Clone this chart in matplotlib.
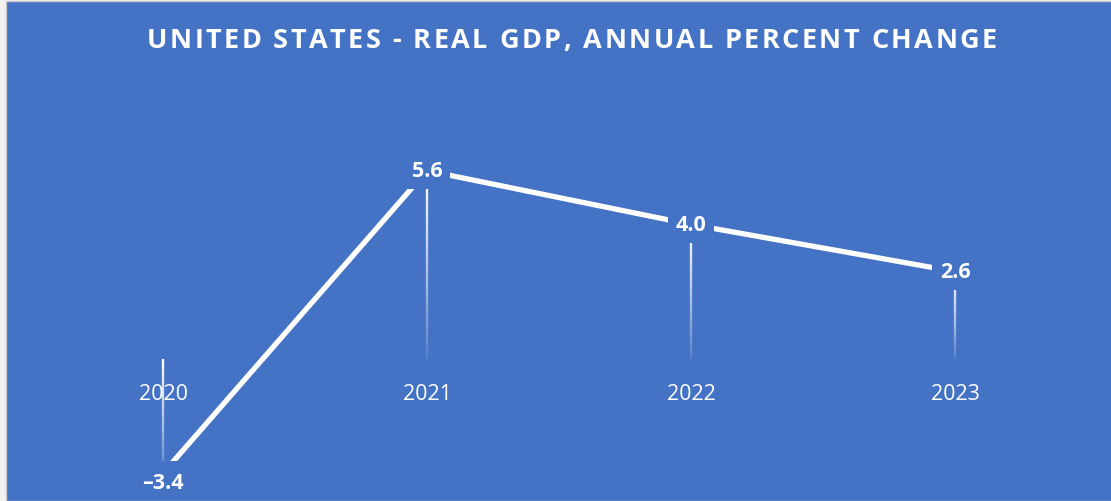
import matplotlib
matplotlib.use("Agg")
import matplotlib.pyplot as plt
import numpy as np
from matplotlib.collections import LineCollection
from matplotlib.patches import Rectangle

years = ["2020", "2021", "2022", "2023"]
gdp_change = [-3.4, 5.6, 4.0, 2.6]
title = "UNITED STATES - REAL GDP, ANNUAL PERCENT CHANGE"

BLUE = "#4472C4"
W, H = 1111, 502

plt.rcParams["font.family"] = ["Open Sans", "DejaVu Sans"]

fig = plt.figure(figsize=(W / 100, H / 100), dpi=100)
fig.patch.set_facecolor("#f2f2f2")

# blue chart area with thin grey frame on top/left
fig.patches.append(Rectangle((6 / W, 0), 1, 1 - 2 / H, transform=fig.transFigure,
                             facecolor=BLUE, edgecolor="#c8c8c8", linewidth=1.0, zorder=-5))

def px_axes(left, top, right, bottom):
    return [left / W, 1 - bottom / H, (right - left) / W, (bottom - top) / H]

ax = fig.add_axes(px_axes(31, 91, 1087, 462))
ax.set_facecolor("none")
for s in ax.spines.values():
    s.set_visible(False)
ax.set_xticks([])
ax.set_yticks([])
ax.set_xlim(-0.5, 3.5)
ax.set_ylim(-3.036, 8.0)

x = np.arange(len(years))

# drop lines fading from white at the top to nothing at the bottom
for xi, v in zip(x, gdp_change):
    top, bot = max(v, 0), min(v, 0)
    ys = np.linspace(top, bot, 60)
    segs = [[(xi, ys[k]), (xi, ys[k + 1])] for k in range(len(ys) - 1)]
    alphas = np.linspace(1.0, 0.05, len(segs)) ** 0.8
    colors = [(1, 1, 1, a) for a in alphas]
    ax.add_collection(LineCollection(segs, colors=colors, linewidths=1.7, zorder=2))

ax.plot(x, gdp_change, color="white", linewidth=3.8, solid_capstyle="butt", zorder=3)

for xi, v in zip(x, gdp_change):
    txt = f"{v:.1f}".replace("-", "\u2013")
    dy = -9 if v < 0 else 0
    ax.annotate(txt, (xi, v), xytext=(0, dy), textcoords="offset pixels",
                ha="center", va="center", color="white", fontsize=15.5,
                fontweight="bold", annotation_clip=False, zorder=5,
                bbox=dict(boxstyle="square,pad=0.35", facecolor=BLUE, edgecolor="none"))

for xi, lab in zip(x, years):
    ax.annotate(lab, (xi, 0), xytext=(0, -35), textcoords="offset pixels",
                ha="center", va="center", color="white", fontsize=15.5,
                annotation_clip=False, zorder=6)

# title with wide letter spacing
renderer = fig.canvas.get_renderer()
tkw = dict(fontsize=19.5, fontweight="bold", color="white")
widths = []
for ch in title:
    if ch == " ":
        a = fig.text(0, 0, "A A", **tkw).get_window_extent(renderer).width
        b = fig.text(0, 0, "AA", **tkw).get_window_extent(renderer).width
        fig.texts = fig.texts[:-2]
        widths.append(a - b)
    else:
        t = fig.text(0, 0, ch, **tkw)
        widths.append(t.get_window_extent(renderer).width)
        fig.texts = fig.texts[:-1]
target = 850
gap = (target - sum(widths)) / (len(title) - 1)
cx = 147
for ch, w in zip(title, widths):
    fig.text(cx / W, 1 - 41 / H, ch, ha="left", va="center", **tkw)
    cx += w + gap

fig.savefig("out.png", dpi=100, facecolor=fig.get_facecolor())
